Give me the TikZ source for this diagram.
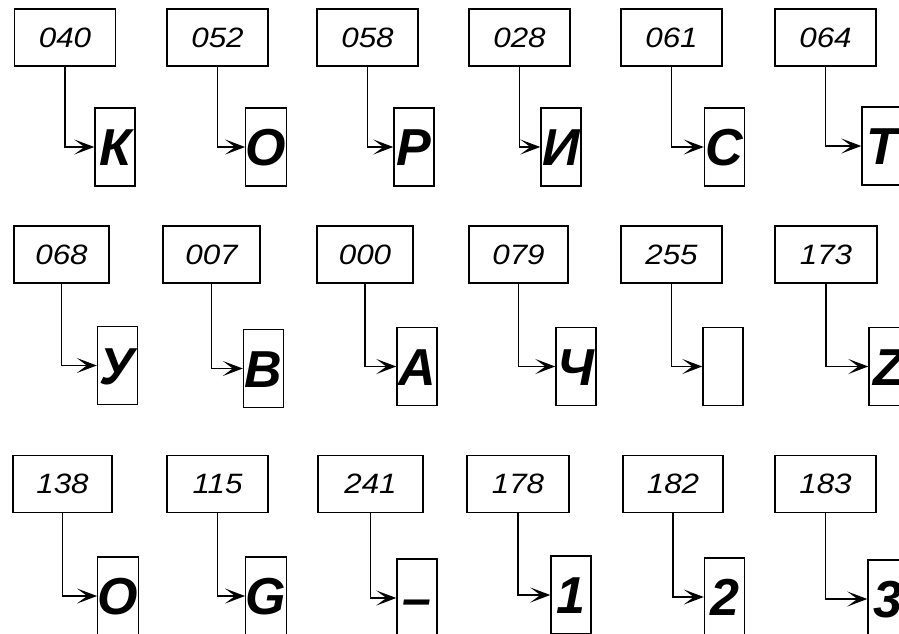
\documentclass[tikz,border=0pt]{standalone}
\usepackage{fontspec}
\setmainfont{Liberation Sans}
\newfontfamily\codefont[FakeStretch=1.12]{Liberation Sans}
\usetikzlibrary{arrows.meta}

\begin{document}
\begin{tikzpicture}[x=1pt, y=-1pt,
  code/.style={draw, line width=1.4pt, minimum width=101pt, minimum height=57pt, inner sep=0pt, font=\codefont\fontsize{28}{30}\selectfont\itshape},
  glyph/.style={draw, line width=1.4pt, minimum width=40pt, minimum height=78pt, inner sep=0pt, text height=37pt, text depth=0pt, font=\fontsize{52}{54}\selectfont\bfseries\itshape},
  arrow/.style={-{Stealth[length=20pt, width=15pt, inset=10pt]}, line width=1.4pt}
]
  \useasboundingbox (0,0) rectangle (899,634);
  \clip (0,0) rectangle (899,634);

  % first row
  \node[code] (code040) at (65,37.5) {040};
  \node[code] (code052) at (217.5,37.5) {052};
  \node[code] (code058) at (367.5,37.5) {058};
  \node[code] (code028) at (519.5,37.5) {028};
  \node[code] (code061) at (671.5,37.5) {061};
  \node[code] (code064) at (825.5,37.5) {064};
  \node[glyph] (sym040) at (115,147) {К};
  \node[glyph] (sym052) at (266,147) {О};
  \node[glyph] (sym058) at (414,147) {Р};
  \node[glyph] (sym028) at (561,147) {И};
  \node[glyph] (sym061) at (724.5,147) {С};
  \node[glyph] (sym064) at (882,146) {Т};

  % second row
  \node[code, minimum width=95pt] (code068) at (61.5,254.5) {068};
  \node[code, minimum width=97pt] (code007) at (211.5,254.5) {007};
  \node[code, minimum width=96pt] (code000) at (365,254.5) {000};
  \node[code, minimum width=99pt] (code079) at (518.5,254.5) {079};
  \node[code] (code255) at (671.5,254.5) {255};
  \node[code, minimum width=102pt] (code173) at (826,254.5) {173};
  \node[glyph] (sym068) at (117.5,365.5) {У};
  \node[glyph] (sym007) at (263.5,368.5) {В};
  \node[glyph] (sym000) at (417,366.5) {А};
  \node[glyph] (sym079) at (576,366.5) {Ч};
  \node[glyph] (sym255) at (723,366.5) {};
  \node[glyph] (sym173) at (889,366.5) {Z};

  % third row
  \node[code, minimum width=99pt] (code138) at (62.5,484) {138};
  \node[code] (code115) at (217.5,484) {115};
  \node[code, minimum width=105pt] (code241) at (370.5,484) {241};
  \node[code, minimum width=102pt] (code178) at (518,484) {178};
  \node[code, minimum width=100pt] (code182) at (673,484) {182};
  \node[code] (code183) at (825.5,484) {183};
  \node[glyph] (sym138) at (118,596) {О};
  \node[glyph] (sym115) at (266,596) {G};
  \node[glyph] (sym241) at (417,598) {–};
  \node[glyph] (sym178) at (571,595) {1};
  \node[glyph] (sym182) at (724.5,597) {2};
  \node[glyph] (sym183) at (888,599) {3};

  \draw[arrow] (code040.south) |- (sym040.west);
  \draw[arrow] (code052.south) |- (sym052.west);
  \draw[arrow] (code058.south) |- (sym058.west);
  \draw[arrow] (code028.south) |- (sym028.west);
  \draw[arrow] (code061.south) |- (sym061.west);
  \draw[arrow] (code064.south) |- (sym064.west);
  \draw[arrow] (code068.south) |- (sym068.west);
  \draw[arrow] (code007.south) |- (sym007.west);
  \draw[arrow] (code000.south) |- (sym000.west);
  \draw[arrow] (code079.south) |- (sym079.west);
  \draw[arrow] (code255.south) |- (sym255.west);
  \draw[arrow] (code173.south) |- (sym173.west);
  \draw[arrow] (code138.south) |- (sym138.west);
  \draw[arrow] (code115.south) |- (sym115.west);
  \draw[arrow] (code241.south) |- (sym241.west);
  \draw[arrow] (code178.south) |- (sym178.west);
  \draw[arrow] (code182.south) |- (sym182.west);
  \draw[arrow] (code183.south) |- (sym183.west);
\end{tikzpicture}
\end{document}
